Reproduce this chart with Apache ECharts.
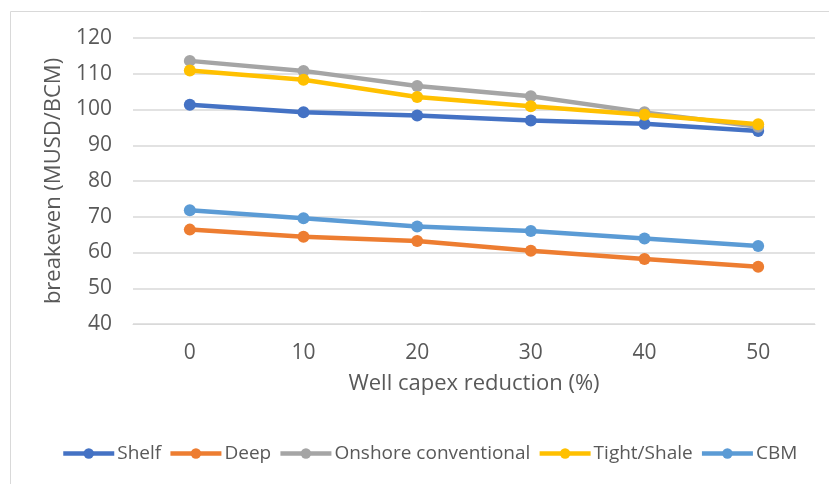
<!DOCTYPE html>
<html>
<head>
<meta charset="utf-8">
<script src="https://cdn.jsdelivr.net/npm/echarts@6/dist/echarts.min.js"></script>
<style>
html,body{margin:0;padding:0;background:#fff;}
#chart{width:829px;height:484px;}
</style>
</head>
<body>
<div id="chart"></div>
<script>
const categories = ['0', '10', '20', '30', '40', '50'];
const shelf = [101.3, 99.2, 98.3, 96.9, 96.0, 94.0];
const deep = [66.4, 64.4, 63.2, 60.5, 58.2, 56.0];
const onshore = [113.6, 110.8, 106.6, 103.7, 99.2, 95.2];
const tightShale = [110.9, 108.3, 103.5, 100.9, 98.5, 95.9];
const cbm = [71.8, 69.6, 67.3, 66.0, 63.9, 61.8];
const seriesNames = ['Shelf', 'Deep', 'Onshore conventional', 'Tight/Shale', 'CBM'];
const yTitle = 'breakeven (MUSD/BCM)';
const xTitle = 'Well capex reduction (%)';

const colors = ['#4472C4', '#ED7D31', '#A5A5A5', '#FFC000', '#5B9BD5'];
const dataSets = [shelf, deep, onshore, tightShale, cbm];
const FONT = "'Open Sans', sans-serif";
const TXT = '#595959';

const chart = echarts.init(document.getElementById('chart'), null, {renderer: 'canvas'});
chart.setOption({
  animation: false,
  color: colors,
  textStyle: {fontFamily: FONT},
  graphic: [{
    type: 'rect', silent: true, z: -10,
    shape: {x: 10.5, y: 11.5, width: 830, height: 480},
    style: {fill: 'none', stroke: '#D9D9D9', lineWidth: 1}
  }],
  grid: {left: 133, right: 14, top: 38, bottom: 160, containLabel: false},
  legend: {
    top: 444, left: 61, padding: 0,
    itemWidth: 51, itemHeight: 13, itemGap: 7,
    lineStyle: {width: 4.5},
    textStyle: {fontFamily: FONT, fontSize: 19, color: TXT, padding: [0, 0, 0, -2]},
    data: seriesNames
  },
  xAxis: {
    type: 'category', data: categories, boundaryGap: true,
    axisLine: {show: true, lineStyle: {color: '#D9D9D9', width: 1}},
    axisTick: {show: false},
    axisLabel: {fontFamily: FONT, fontSize: 21, color: TXT, margin: 19},
    name: xTitle, nameLocation: 'middle', nameGap: 49,
    nameTextStyle: {fontFamily: FONT, fontSize: 22, color: TXT}
  },
  yAxis: {
    type: 'value', min: 40, max: 120, interval: 10,
    axisLine: {show: false}, axisTick: {show: false},
    splitLine: {lineStyle: {color: '#D9D9D9', width: 1.5}},
    axisLabel: {fontFamily: FONT, fontSize: 21, color: TXT, margin: 21},
    name: yTitle, nameLocation: 'middle', nameGap: 14, nameRotate: 90,
    nameTextStyle: {fontFamily: FONT, fontSize: 22, color: TXT}
  },
  series: dataSets.map((d, i) => ({
    name: seriesNames[i], type: 'line', data: d,
    symbol: 'circle', symbolSize: 12,
    lineStyle: {width: 4.5, color: colors[i]},
    itemStyle: {color: colors[i]}
  }))
});
</script>
</body>
</html>
